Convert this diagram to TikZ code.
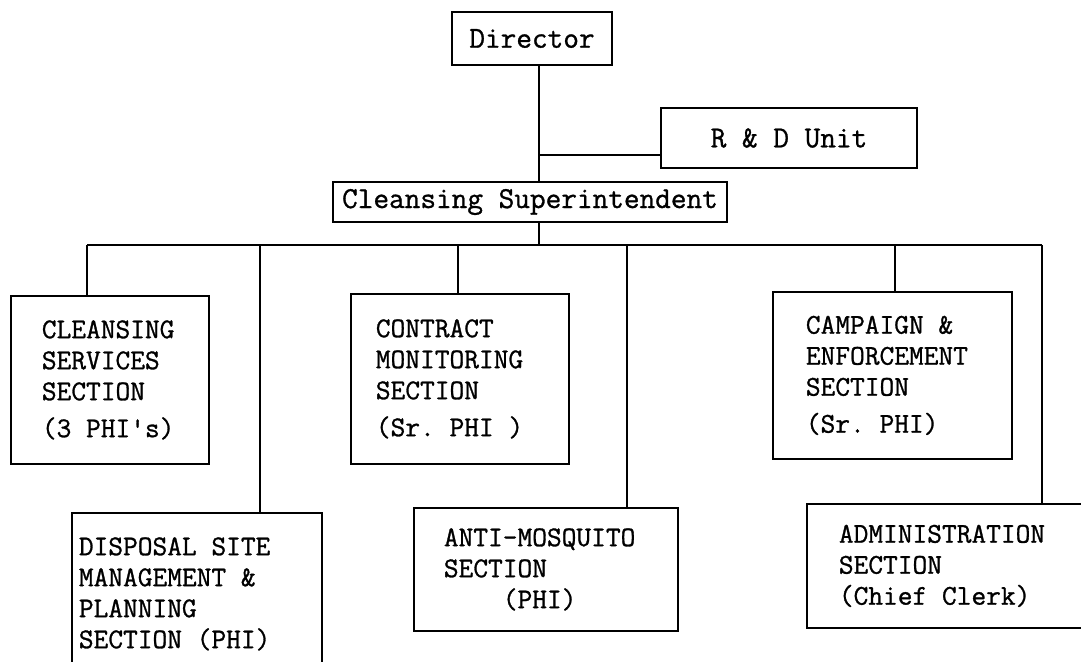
\documentclass[tikz,border=0pt]{standalone}
\usepackage{fontspec}
\newfontfamily\typew[FakeBold=1,WordSpace={1,0,0}]{Latin Modern Mono}
\frenchspacing

\begin{document}
\begin{tikzpicture}[x=0.5pt,y=-0.5pt,line width=0.9pt,
	head/.style={draw,inner sep=0pt,font=\typew\fontsize{15.2}{16}\selectfont},
	sect/.style={draw,anchor=north west,align=flush left,inner ysep=0pt,font=\typew\fontsize{14.3}{15.5}\selectfont}]
				\clip (0,0) rectangle (1081,661);
				\node[head,minimum width=80pt,minimum height=26.5pt] (dir) at (532,38.5) {Director};
				\node[head,minimum width=128pt,minimum height=30pt] (rd) at (789,138) {R \& D Unit};
				\node[head,minimum width=197pt,minimum height=20pt] (sup) at (530,202) {Cleansing Superintendent};

				\node[sect,inner xsep=15.5pt,text width=68pt,minimum height=84pt] (cs) at (10,295) {CLEANSING\\SERVICES\\SECTION\\[3pt](3 PHI's)};
				\node[sect,inner xsep=12.5pt,text width=84pt,minimum height=85pt] (cm) at (350,293) {CONTRACT\\MONITORING\\SECTION\\[3pt](Sr. PHI )};
				\node[sect,inner xsep=16.5pt,text width=86.5pt,minimum height=83.5pt] (ce) at (772,291) {CAMPAIGN \&\\ENFORCEMENT\\SECTION\\[3pt](Sr. PHI)};
				\node[sect,inner xsep=3.5pt,text width=118pt,minimum height=81pt] (ds) at (71,512) {DISPOSAL SITE\\MANAGEMENT \&\\PLANNING\\SECTION (PHI)};
				\node[sect,inner xsep=15pt,text width=102pt,minimum height=61.5pt] (am) at (413,507) {ANTI-MOSQUITO\\SECTION\\\hphantom{ANTI}(PHI)};
				\node[sect,inner xsep=16pt,text width=120pt,minimum height=62pt] (ad) at (806,503) {ADMINISTRATION\\SECTION\\(Chief Clerk)};

				\coordinate (spine) at (539,0);
				\coordinate (rdj) at (539,155);
				\coordinate (bus) at (539,245);
				\draw (dir.south -| spine) -- (sup.north -| spine);
				\draw (rdj) -- (rdj -| rd.west);
				\draw (sup.south -| spine) -- (bus);
				\draw (87,245) -- (1042,245);
				\foreach \x/\b in {87/cs,260/ds,458/cm,627/am,895/ce,1042/ad} {
					\draw (\x,245) -- (\x,245 |- \b.north);
				}
\end{tikzpicture}
\end{document}
